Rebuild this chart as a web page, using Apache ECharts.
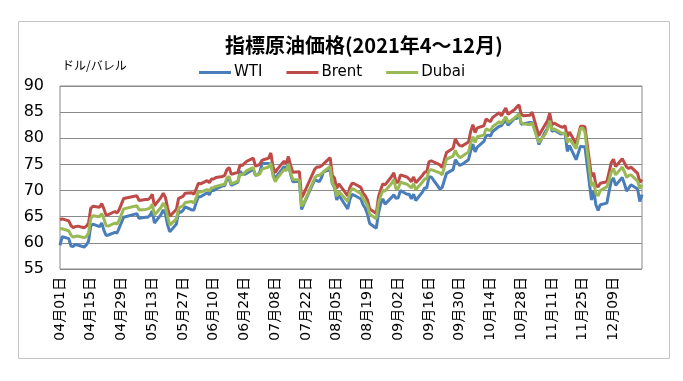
<!DOCTYPE html>
<html><head><meta charset="utf-8">
<script src="https://cdn.jsdelivr.net/npm/echarts@6/dist/echarts.min.js"></script>
<style>html,body{margin:0;padding:0;background:#fff}#c{width:683px;height:381px}</style>
</head><body><div id="c"></div>
<script>
const titleText = '指標原油価格(2021年4～12月)';
const unitText = 'ドル/バレル';
const seriesNames = ['WTI', 'Brent', 'Dubai'];
const yTicks = [55, 60, 65, 70, 75, 80, 85, 90];

const tradeDates = [
 '4/1','4/2','4/5','4/6','4/7','4/8','4/9','4/12','4/13','4/14','4/15','4/16','4/19','4/20','4/21','4/22','4/23','4/26','4/27','4/28','4/30',
 '5/6','5/7','5/10','5/11','5/12','5/13','5/14','5/17','5/18','5/19','5/20','5/21','5/24','5/25','5/26','5/27','5/28','5/31',
 '6/1','6/2','6/3','6/4','6/7','6/8','6/9','6/10','6/11','6/14','6/15','6/16','6/17','6/18','6/21','6/22','6/23','6/24','6/25','6/28','6/29','6/30',
 '7/1','7/2','7/5','7/6','7/7','7/8','7/9','7/12','7/13','7/14','7/15','7/16','7/19','7/20','7/21','7/26','7/27','7/28','7/29','7/30',
 '8/2','8/3','8/4','8/5','8/6','8/10','8/11','8/12','8/13','8/16','8/17','8/18','8/19','8/20','8/23','8/24','8/25','8/26','8/27','8/30','8/31',
 '9/1','9/2','9/3','9/6','9/7','9/8','9/9','9/10','9/13','9/14','9/15','9/16','9/17','9/21','9/22','9/24','9/27','9/28','9/29','9/30',
 '10/1','10/4','10/5','10/6','10/7','10/8','10/11','10/12','10/13','10/14','10/15','10/18','10/19','10/20','10/21','10/22','10/25','10/26','10/27','10/28','10/29',
 '11/1','11/2','11/4','11/5','11/8','11/9','11/10','11/11','11/12','11/15','11/16','11/17','11/18','11/19','11/22','11/24','11/25','11/26','11/29','11/30',
 '12/1','12/2','12/3','12/6','12/7','12/8','12/9','12/10','12/13','12/14','12/15','12/16','12/17','12/20','12/21','12/22'
];

const wti = [
 59.5,61.2,60.8,59.4,59.3,59.7,59.6,59.2,59.6,60.3,63.2,63.6,63.1,63.8,62.4,61.4,61.5,62.0,61.9,62.9,64.9,
 65.6,64.7,64.9,64.9,65.3,66.1,63.8,65.4,66.3,65.5,63.4,62.1,63.6,66.1,65.8,66.2,66.9,66.3,
 66.3,67.7,68.8,68.8,69.6,69.2,70.1,70.0,70.3,70.9,70.9,72.1,72.2,71.0,71.6,73.7,73.1,73.1,73.3,74.1,72.9,73.0,
 73.5,75.2,75.2,75.2,73.4,72.2,72.9,74.6,74.1,75.3,73.1,71.7,71.8,66.4,67.4,72.1,71.9,71.7,72.4,73.6,
 74.0,71.3,70.6,68.2,69.1,66.5,68.3,69.3,69.1,68.4,67.3,66.6,65.5,63.7,62.8,65.6,67.5,68.4,67.4,68.7,69.2,
 68.5,68.6,70.0,69.3,69.3,68.4,69.3,68.1,69.7,70.5,70.5,72.6,72.6,70.3,70.6,73.3,74.0,75.9,75.3,74.8,
 75.0,75.9,77.6,78.9,77.4,78.3,79.4,80.5,80.6,80.4,81.3,82.3,82.4,83.0,83.4,82.5,83.8,83.8,84.7,82.7,82.8,
 83.0,83.0,80.9,78.8,81.3,81.9,84.2,81.3,81.6,80.8,80.9,80.8,77.5,78.6,75.9,78.5,78.4,78.4,68.2,70.0,
 67.3,66.2,67.3,67.6,69.8,71.8,72.4,71.0,72.5,71.3,69.9,70.5,71.1,70.3,67.9,69.2
];

const brent = [
 64.4,64.6,64.2,63.3,62.9,63.1,63.2,62.9,63.2,63.8,66.6,67.0,66.8,67.5,66.5,65.3,65.4,66.0,65.7,66.4,68.5,
 69.0,68.1,68.3,68.3,68.6,69.3,67.1,68.7,69.5,68.7,66.7,65.1,66.4,68.5,68.7,68.9,69.5,69.6,
 69.3,70.3,71.4,71.3,71.9,71.5,72.2,72.2,72.5,72.7,72.9,74.0,74.4,73.1,73.5,74.9,74.8,75.2,75.6,76.2,74.7,74.8,
 75.1,75.8,76.2,77.2,74.5,73.4,74.1,75.6,75.2,76.5,74.8,73.5,73.6,68.6,69.4,74.1,74.5,74.5,74.7,75.1,
 76.3,72.9,72.4,70.4,71.3,69.0,70.6,71.4,71.3,70.6,69.5,69.0,68.2,66.5,65.6,68.8,70.1,71.3,71.1,72.7,73.4,
 71.6,71.6,73.0,72.6,72.2,71.7,72.6,71.5,72.9,73.5,73.6,75.5,75.7,74.9,74.4,77.3,78.1,79.9,79.1,78.6,
 78.5,79.3,81.3,82.6,81.1,82.0,82.4,83.7,83.4,83.2,84.0,84.9,84.3,85.1,85.8,84.6,85.5,86.0,86.4,84.6,84.3,
 84.4,85.0,82.0,80.5,82.7,83.4,84.8,82.6,82.9,82.2,82.1,82.4,80.3,81.2,78.9,82.3,82.3,82.2,72.7,73.4,
 71.1,70.7,71.4,71.7,73.5,75.3,76.0,74.6,76.1,75.3,74.5,74.2,74.5,73.3,71.6,72.1
];

const dubai = [
 62.7,62.7,62.3,61.5,61.1,61.2,61.3,61.0,61.2,61.9,64.7,65.2,65.0,65.6,64.6,63.3,63.2,63.8,63.6,64.4,66.5,
 67.1,66.3,66.4,66.5,66.7,67.4,65.3,66.8,67.6,66.9,65.0,63.4,64.6,66.6,66.9,67.1,67.7,67.9,
 67.6,68.6,69.8,69.7,70.2,69.9,70.5,70.6,70.8,71.1,71.2,72.4,72.7,71.3,71.8,73.1,73.0,73.4,73.8,74.4,72.9,73.0,
 73.2,74.1,74.5,75.3,72.8,71.7,72.4,74.0,73.8,75.1,73.4,72.1,72.0,67.0,67.6,72.4,72.9,72.9,73.2,73.6,
 74.6,71.3,70.8,68.9,69.8,67.9,69.6,70.4,70.2,69.4,68.4,67.9,67.1,65.5,64.6,67.6,68.9,70.0,69.9,71.4,72.1,
 70.3,70.4,71.6,71.2,70.9,70.5,71.3,70.2,71.6,72.2,72.3,73.8,74.0,73.4,73.0,76.0,76.6,77.7,76.8,76.3,
 76.5,77.4,79.1,80.3,79.2,80.3,80.6,81.8,81.6,81.5,82.2,83.2,82.8,83.5,84.1,83.0,83.9,84.3,84.6,83.0,82.8,
 82.6,83.0,80.4,79.2,80.8,81.8,83.4,81.6,81.8,81.1,80.9,81.1,79.2,79.9,78.0,81.9,82.0,81.2,70.9,71.6,
 69.5,69.0,70.0,70.7,72.0,73.5,74.2,73.0,74.5,73.6,72.5,72.9,73.0,71.8,70.4,71.1
];

const colors = ['#4a7ebb', '#be4b48', '#98b954'];

function pad(n){ return (n < 10 ? '0' : '') + n; }
function label(m, d){ return pad(m) + '月' + pad(d) + '日'; }

// calendar-day categories (date axis like behaviour)
const categories = [];
(function(){
  const d = new Date(2021, 3, 1), end = new Date(2021, 11, 22);
  while (d <= end) { categories.push(label(d.getMonth() + 1, d.getDate())); d.setDate(d.getDate() + 1); }
})();

function toSeries(values){
  const map = {};
  tradeDates.forEach((s, i) => { const p = s.split('/'); map[label(+p[0], +p[1])] = values[i]; });
  return categories.map(c => (c in map ? map[c] : null));
}

const chart = echarts.init(document.getElementById('c'), null, {renderer: 'canvas'});
const axisFont = '"DejaVu Sans", "Noto Sans CJK JP", sans-serif';
chart.setOption({
  animation: false,
  backgroundColor: '#fff',
  color: colors,
  title: [
    {text: titleText, left: 225, top: 35, padding: 0, textStyle: {fontFamily: '"Noto Sans CJK JP", sans-serif', fontWeight: 'bold', fontSize: 20, color: '#000'}},
    {text: unitText, left: 62, top: 59, padding: 0, textStyle: {fontFamily: '"Noto Sans CJK JP", sans-serif', fontWeight: 'normal', fontSize: 12, color: '#000'}}
  ],
  legend: {
    data: seriesNames, left: 199, top: 65, padding: 0, itemGap: 24, itemWidth: 32, itemHeight: 3,
    icon: 'rect', textStyle: {fontFamily: axisFont, fontSize: 15, color: '#000', padding: [0, 0, 0, -2]}
  },
  grid: {left: 60, right: 41, top: 86, bottom: 112, show: true, borderColor: '#8a8a8a', borderWidth: 1},
  xAxis: {
    type: 'category', data: categories, boundaryGap: false,
    axisLine: {show: false}, axisTick: {show: false},
    axisLabel: {interval: 13, rotate: 90, margin: 8, fontSize: 14, color: '#000', fontFamily: axisFont}
  },
  yAxis: {
    type: 'value', min: yTicks[0], max: yTicks[yTicks.length - 1], interval: 5,
    axisLine: {show: false}, axisTick: {show: false},
    axisLabel: {margin: 16, fontSize: 16, color: '#000', fontFamily: axisFont},
    splitLine: {lineStyle: {color: '#8a8a8a', width: 1}}
  },
  graphic: [{type: 'rect', shape: {x: 18.5, y: 21.5, width: 651, height: 337}, style: {fill: 'none', stroke: '#c4c4c4', lineWidth: 1}, silent: true}],
  series: [wti, brent, dubai].map((v, i) => ({
    name: seriesNames[i], type: 'line', data: toSeries(v), connectNulls: true,
    showSymbol: false, symbol: 'none', lineStyle: {width: 3, color: colors[i]}, z: 2 + i
  }))
});
</script></body></html>
